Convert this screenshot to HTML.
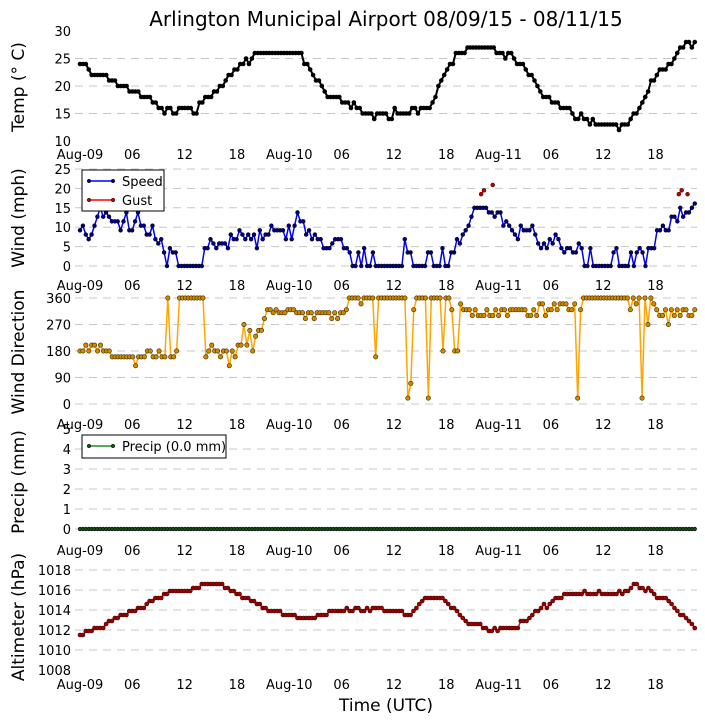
<!DOCTYPE html>
<html><head><meta charset="utf-8"><style>
html,body{margin:0;padding:0;background:#fff;}
svg{display:block;font-family:"DejaVu Sans","Liberation Sans",sans-serif;}
</style></head><body>
<svg id="c" width="705" height="725" viewBox="0 0 705 725">
<text x="386" y="26" font-size="20" text-anchor="middle">Arlington Municipal Airport 08/09/15 - 08/11/15</text>
<text x="386" y="711" font-size="17" text-anchor="middle">Time (UTC)</text>
</svg>
<script>
const xTickLabels = ["Aug-09","06","12","18","Aug-10","06","12","18","Aug-11","06","12","18"];
const xTickHours = [0,6,12,18,24,30,36,42,48,54,60,66];
const tempValues = [24,24,24,23,22,22,22,22,22,22,21,21,21,20,20,20,20,19,19,19,19,18,18,18,18,17,17,16,16,15,16,16,15,15,16,16,16,16,16,15,15,17,17,18,18,18,19,19,20,20,21,22,22,23,23,24,24,25,24,25,26,26,26,26,26,26,26,26,26,26,26,26,26,26,26,26,26,24,24,23,22,21,21,20,19,18,18,18,18,18,17,17,17,16,17,16,16,15,15,15,15,14,15,15,15,15,14,14,16,15,15,15,15,15,16,16,15,16,16,16,16,17,18,20,21,22,23,24,24,26,26,26,26,27,27,27,27,27,27,27,27,27,27,26,26,26,25,26,26,25,24,24,24,23,22,22,21,20,19,18,18,18,17,17,17,16,16,16,16,15,14,14,15,14,14,13,14,13,13,13,13,13,13,13,13,12,13,13,13,14,15,15,16,17,18,19,21,21,22,23,23,23,24,24,25,26,27,27,28,28,27,28];
const speedValues = [9.2,10.4,8.1,6.9,8.1,10.4,12.7,15,12.7,13.8,12.7,11.5,11.5,11.5,9.2,11.5,13.8,9.2,9.2,11.5,13.8,10.4,10.4,8.1,8.1,10.4,6.9,5.8,6.9,3.5,0,4.6,3.5,3.5,0,0,0,0,0,0,0,0,0,4.6,4.6,6.9,5.8,4.6,5.8,5.8,5.8,4.6,8.1,6.9,6.9,9.2,8.1,6.9,8.1,6.9,8.1,4.6,9.2,6.9,8.1,8.1,10.4,9.2,9.2,9.2,9.2,6.9,10.4,6.9,10.4,13.8,11.5,11.5,8.1,9.2,6.9,8.1,6.9,6.9,4.6,4.6,4.6,5.8,6.9,6.9,6.9,4.6,4.6,3.5,0,0,3.5,0,4.6,0,0,3.5,0,0,0,0,0,0,0,0,0,0,6.9,3.5,3.5,0,0,0,0,0,3.5,3.5,0,0,0,4.6,0,0,3.5,3.5,6.9,5.8,8.1,9.2,10.4,12.7,15,15,15,15,15,13.8,13.8,12.7,13.8,13.8,10.4,11.5,10.4,9.2,8.1,6.9,10.4,9.2,9.2,9.2,10.4,8.1,5.8,4.6,5.8,4.6,6.9,5.8,8.1,6.9,4.6,3.5,4.6,4.6,3.5,3.5,5.8,4.6,0,0,4.6,0,0,0,0,0,0,0,3.5,4.6,0,0,0,0,3.5,0,3.5,4.6,3.5,0,4.6,4.6,4.6,9.2,9.2,10.4,9.2,9.2,12.7,12.7,11.5,15,12.7,13.8,13.8,15,16.1];
const gustHours = [46,46.33,47.33,68.67,69,69.67];
const gustValues = [18.5,19.5,20.9,18.5,19.5,18.5];
const dirValues = [180,180,200,180,200,200,180,200,180,180,180,160,160,160,160,160,160,160,160,130,160,160,160,180,180,160,160,180,160,160,360,160,160,180,360,360,360,360,360,360,360,360,360,160,180,200,180,180,160,180,180,130,180,160,200,200,270,200,250,180,230,250,250,290,320,320,310,320,310,310,310,320,320,320,310,310,310,290,310,310,290,310,310,310,310,310,290,310,290,310,310,320,360,360,360,360,340,360,360,360,360,160,360,360,360,360,360,360,360,360,360,360,20,70,320,360,360,360,360,20,360,360,360,360,180,360,360,320,180,180,340,320,320,320,300,320,300,300,300,320,300,300,320,300,320,320,300,320,320,320,320,320,320,300,300,320,300,340,340,300,320,320,340,320,340,340,340,320,320,340,20,320,360,360,360,360,360,360,360,360,360,360,360,360,360,360,360,360,320,360,340,360,20,360,270,360,340,320,300,300,320,270,320,300,320,300,320,320,300,300,320];
const precipValues = new Array(212).fill(0);
const altValues = [1011.5,1011.5,1011.9,1011.9,1011.9,1012.2,1012.2,1012.2,1012.2,1012.6,1012.9,1012.9,1013.2,1013.2,1013.5,1013.5,1013.5,1013.9,1013.9,1013.9,1014.2,1014.2,1014.2,1014.6,1014.9,1014.9,1015.2,1015.2,1015.2,1015.6,1015.6,1015.9,1015.9,1015.9,1015.9,1015.9,1015.9,1015.9,1015.9,1016.2,1016.2,1016.2,1016.6,1016.6,1016.6,1016.6,1016.6,1016.6,1016.6,1016.6,1016.2,1016.2,1015.9,1015.9,1015.6,1015.6,1015.2,1015.2,1015.2,1014.9,1014.9,1014.6,1014.6,1014.2,1014.2,1013.9,1013.9,1013.9,1013.9,1013.9,1013.5,1013.5,1013.5,1013.5,1013.5,1013.2,1013.2,1013.2,1013.2,1013.2,1013.2,1013.2,1013.5,1013.5,1013.5,1013.5,1013.9,1013.9,1013.9,1013.9,1013.9,1013.9,1014.2,1013.9,1013.9,1014.2,1014.2,1013.9,1013.9,1014.2,1013.9,1014.2,1014.2,1014.2,1014.2,1013.9,1013.9,1013.9,1013.9,1013.9,1013.9,1013.9,1013.5,1013.5,1013.5,1013.9,1014.2,1014.6,1014.9,1015.2,1015.2,1015.2,1015.2,1015.2,1015.2,1015.2,1014.9,1014.6,1014.2,1014.2,1013.9,1013.5,1013.2,1012.9,1012.6,1012.6,1012.6,1012.6,1012.6,1012.2,1012.2,1011.9,1011.9,1012.2,1011.9,1012.2,1012.2,1012.2,1012.2,1012.2,1012.2,1012.2,1012.9,1012.9,1012.9,1013.2,1013.5,1013.9,1013.9,1014.2,1014.6,1014.2,1014.6,1014.9,1015.2,1015.2,1015.2,1015.6,1015.6,1015.6,1015.6,1015.6,1015.6,1015.6,1015.9,1015.6,1015.6,1015.6,1015.6,1015.9,1015.6,1015.6,1015.6,1015.6,1015.6,1015.6,1015.9,1015.6,1015.9,1015.9,1016.2,1016.6,1016.6,1016.2,1016.2,1015.9,1016.2,1015.9,1015.6,1015.2,1015.2,1015.2,1015.2,1014.9,1014.6,1014.2,1013.9,1013.5,1013.5,1013.2,1012.9,1012.6,1012.2];

const svg = document.getElementById('c');
const NS = 'http://www.w3.org/2000/svg';
const SPAN = 70.5;
function xScale(h){ return 80 + h * 8.72; }
function mk(tag, attrs, parent){ const e=document.createElementNS(NS,tag); for(const k in attrs) e.setAttribute(k,attrs[k]); (parent||svg).appendChild(e); return e; }

const panels = [
 {name:'temp', label:'Temp (° C)', labelY:87, v0:10, v1:30, y0:141, y1:31, ticks:[10,15,20,25,30], grid:[15,20,25], xlabY:159},
 {name:'wind', label:'Wind (mph)', labelY:218, v0:0, v1:25, y0:266, y1:169, ticks:[0,5,10,15,20,25], grid:[0,5,10,15,20,25], xlabY:290},
 {name:'direction', label:'Wind Direction', labelY:352, v0:0, v1:360, y0:404, y1:298, ticks:[0,90,180,270,360], grid:[0,90,180,270,360], xlabY:429},
 {name:'precip', label:'Precip (mm)', labelY:482, v0:0, v1:5, y0:529, y1:429, ticks:[0,1,2,3,4,5], grid:[0,1,2,3,4], xlabY:555},
 {name:'altimeter', label:'Altimeter (hPa)', labelY:617, v0:1008, v1:1018, y0:670, y1:570, ticks:[1008,1010,1012,1014,1016,1018], grid:[1010,1012,1014,1016,1018], xlabY:689}
];
panels.forEach(p=>{ p.y = v => p.y0 + (v-p.v0)*(p.y1-p.y0)/(p.v1-p.v0); });

panels.forEach(p=>{
  const g = mk('g',{});
  
  
  p.g = g;
  p.grid.forEach(v=>{
    const l = mk('line',{x1:75,x2:697,y1:p.y(v),y2:p.y(v),stroke:'#c8c8c8','stroke-width':1,'stroke-dasharray':'8,6'},g);
    
    
  });
  p.ticks.forEach(v=>{
    const t = mk('text',{x:71,y:p.y(v)+5,'font-size':13,'text-anchor':'end'},g);
    t.textContent = v;
    
    
  });
  xTickHours.forEach((h,i)=>{
    const t = mk('text',{x:xScale(h),y:p.xlabY,'font-size':13,'text-anchor':'middle'},g);
    t.textContent = xTickLabels[i];
    
    
  });
  const yl = mk('text',{x:0,y:0,'font-size':17,'text-anchor':'middle',transform:`translate(24,${p.labelY}) rotate(-90)`},g);
  yl.textContent = p.label;
  
  
});

function series(p, vals, hoursArr, line, lw, fill, edge, r, nm){
  const hrs = hoursArr || vals.map((_,i)=> i*SPAN/(vals.length-1));
  const g = mk('g',{},p.g);
  
  
  if(line){
    const pts = vals.map((v,i)=> xScale(hrs[i]).toFixed(1)+','+p.y(v).toFixed(1)).join(' ');
    const pl = mk('polyline',{points:pts,fill:'none',stroke:line,'stroke-width':lw,'stroke-linejoin':'round'},g);
    
    
  }
  vals.forEach((v,i)=>{
    const c = mk('circle',{cx:xScale(hrs[i]),cy:p.y(v),r:r,fill:fill,stroke:edge,'stroke-width':0.6},g);
    
    
  });
}
series(panels[0], tempValues, null, '#000', 2, '#000', '#000', 2, 'temperature-series');
series(panels[1], speedValues, null, '#0000ff', 1.5, '#00008b', '#000', 1.9, 'wind-speed-series');
const gp = panels[1];
const gg = mk('g',{},gp.g);


for(let i=1;i<gustHours.length;i++){
  if(gustHours[i]-gustHours[i-1] < 0.5){
    const l = mk('line',{x1:xScale(gustHours[i-1]),y1:gp.y(gustValues[i-1]),x2:xScale(gustHours[i]),y2:gp.y(gustValues[i]),stroke:'#ff0000','stroke-width':1.5},gg);
    
    
  }
}
gustValues.forEach((v,i)=>{
  const c = mk('circle',{cx:xScale(gustHours[i]),cy:gp.y(v),r:1.9,fill:'#c00000',stroke:'#400','stroke-width':0.6},gg);
  
  
});
series(panels[2], dirValues, null, '#ffa500', 1.5, '#d08a00', '#3a2a00', 2.2, 'wind-direction-series');
series(panels[3], precipValues, null, '#228b22', 1.5, '#145214', '#000', 1.8, 'precip-series');
series(panels[4], altValues, null, '#ff0000', 1.5, '#a00000', '#300', 2, 'altimeter-series');

function legend(x,y,w,h,items,nm){
  const g = mk('g',{});
  
  
  mk('rect',{x:x,y:y,width:w,height:h,fill:'#fff',stroke:'#000','stroke-width':1},g);
  items.forEach((it,i)=>{
    const yy = y + 11 + i*19;
    mk('line',{x1:x+7,x2:x+31,y1:yy,y2:yy,stroke:it.c,'stroke-width':1.5},g);
    mk('circle',{cx:x+7,cy:yy,r:1.8,fill:it.f,stroke:'#000','stroke-width':0.5},g);
    mk('circle',{cx:x+31,cy:yy,r:1.8,fill:it.f,stroke:'#000','stroke-width':0.5},g);
    const t = mk('text',{x:x+40,y:yy+5,'font-size':13},g);
    t.textContent = it.t;
    
    
  });
}
legend(82,170,82,41,[{c:'#0000ff',f:'#00008b',t:'Speed'},{c:'#ff0000',f:'#c00000',t:'Gust'}],'wind-legend');
legend(82,435,144,23,[{c:'#228b22',f:'#145214',t:'Precip (0.0 mm)'}],'precip-legend');
</script>
</body></html>
